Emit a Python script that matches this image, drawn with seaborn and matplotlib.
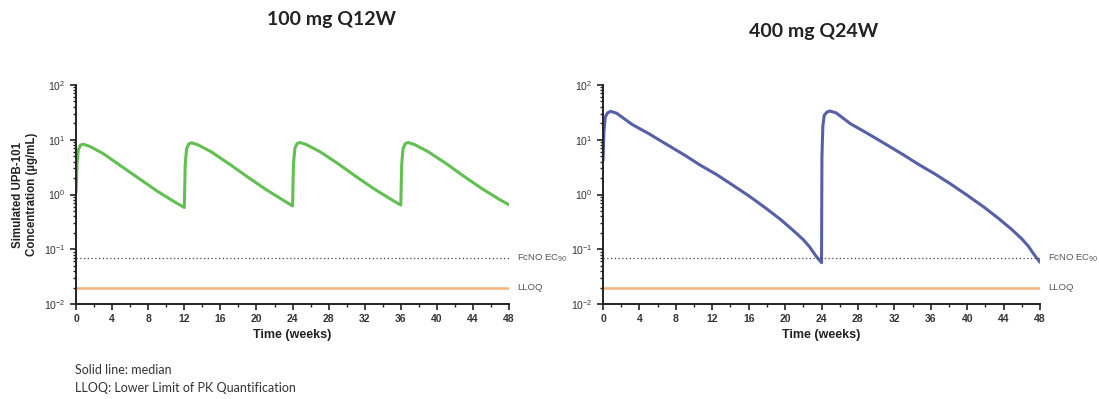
import numpy as np
import pandas as pd
import seaborn as sns
import matplotlib.pyplot as plt
from matplotlib.ticker import MultipleLocator, LogLocator

# values
weeks_q12w = [0, 0.1, 0.25, 0.5, 0.8, 1.5, 3, 5, 7, 9, 11, 12,
              12.1, 12.25, 12.5, 12.8, 13.5, 15, 17, 19, 21, 23, 24,
              24.1, 24.25, 24.5, 24.8, 25.5, 27, 29, 31, 33, 35, 36,
              36.1, 36.25, 36.5, 36.8, 37.5, 39, 41, 43, 45, 47, 48]
conc_q12w = [1.1, 3.5, 6.5, 8.0, 8.3, 7.6, 5.6, 3.3, 1.95, 1.15, 0.72, 0.58,
             3.5, 6.8, 8.4, 8.8, 8.1, 6.0, 3.6, 2.1, 1.25, 0.78, 0.62,
             3.6, 6.9, 8.5, 8.9, 8.2, 6.1, 3.7, 2.15, 1.28, 0.8, 0.64,
             3.6, 6.9, 8.5, 8.9, 8.2, 6.1, 3.7, 2.15, 1.28, 0.8, 0.65]

weeks_q24w = [0, 0.1, 0.25, 0.5, 0.85, 1.5, 3.2, 5, 7, 9, 10.6, 12.5, 14.2, 16,
              17.9, 19.5, 20.9, 22, 22.7, 23.4, 24.0,
              24.05, 24.15, 24.3, 24.6, 24.9, 25.6, 27.2, 29, 31, 33, 34.6, 36.5,
              38.2, 40, 41.9, 43.5, 44.9, 46, 46.7, 47.4, 48]
conc_q24w = [4.2, 14, 26, 31, 33, 30.5, 19, 13, 8.2, 5.2, 3.5, 2.3, 1.5, 0.95,
             0.56, 0.35, 0.22, 0.15, 0.11, 0.075, 0.057,
             5, 18, 28, 32, 33.5, 31, 19.5, 13.2, 8.4, 5.3, 3.6, 2.35,
             1.55, 0.97, 0.58, 0.36, 0.23, 0.155, 0.115, 0.078, 0.058]

fcno_ec90 = 0.07
lloq = 0.02

panels = [
    ("100 mg Q12W", weeks_q12w, conc_q12w, "#62c052"),
    ("400 mg Q24W", weeks_q24w, conc_q24w, "#5660a8"),
]

sns.set_style("ticks")
plt.rcParams["font.family"] = ["Liberation Sans", "DejaVu Sans"]

fig = plt.figure(figsize=(10.99, 3.99), dpi=100)
ax_pos = [[0.0692, 0.238, 0.394, 0.549], [0.5487, 0.238, 0.3976, 0.549]]
title_xy = [(0.302, 0.952), (0.740, 0.922)]

for i, (title, t, c, color) in enumerate(panels):
    ax = fig.add_axes(ax_pos[i])
    df = pd.DataFrame({"Time": t, "Conc": c})
    sns.lineplot(data=df, x="Time", y="Conc", ax=ax, color=color, linewidth=2.2,
                 estimator=None, sort=False)
    ax.axhline(fcno_ec90, color="#444444", linestyle=(0, (1, 2)), linewidth=0.9)
    ax.axhline(lloq, color="#f5b27c", linewidth=1.8)
    ax.set_yscale("log")
    ax.set_ylim(1e-2, 1e2)
    ax.set_xlim(0, 48)
    ax.xaxis.set_major_locator(MultipleLocator(4))
    ax.xaxis.set_minor_locator(MultipleLocator(2))
    ax.yaxis.set_major_locator(LogLocator(base=10, numticks=10))
    ax.yaxis.set_minor_locator(LogLocator(base=10, subs=np.arange(2, 10), numticks=10))
    sns.despine(ax=ax)
    for side in ["left", "bottom"]:
        ax.spines[side].set_linewidth(1.4)
        ax.spines[side].set_color("#222222")
    ax.tick_params(axis="both", which="major", length=4, width=1.2, color="#222222",
                   labelsize=7.5, labelcolor="#333333")
    ax.tick_params(axis="both", which="minor", length=2.5, width=1.0, color="#222222")
    for lab in ax.get_xticklabels():
        lab.set_fontweight("bold")
    ax.set_xlabel("Time (weeks)", fontsize=9, fontweight="bold", color="#222222", labelpad=3)
    if i == 0:
        ax.set_ylabel("Simulated UPB-101\nConcentration (µg/mL)", fontsize=8.3,
                      fontweight="bold", color="#222222")
        ax.yaxis.set_label_coords(-0.088, 0.5)
    else:
        ax.set_ylabel("")
    ax.text(48.9, fcno_ec90, "FcNO EC$_{90}$", fontsize=6.8, color="#555555",
            va="center", ha="left", clip_on=False)
    ax.text(48.9, lloq, "LLOQ", fontsize=6.8, color="#555555",
            va="center", ha="left", clip_on=False)
    fig.text(title_xy[i][0], title_xy[i][1], title, fontsize=14,
             fontweight="bold", family=["Lato", "DejaVu Sans"], color="#222222",
             ha="center", va="center")

fig.text(0.068, 0.073, "Solid line: median", fontsize=9, family=["Lato", "DejaVu Sans"],
         color="#333333", va="center")
fig.text(0.068, 0.028, "LLOQ: Lower Limit of PK Quantification", fontsize=9,
         family=["Lato", "DejaVu Sans"], color="#333333", va="center")

fig.savefig("out.png", dpi=100)
